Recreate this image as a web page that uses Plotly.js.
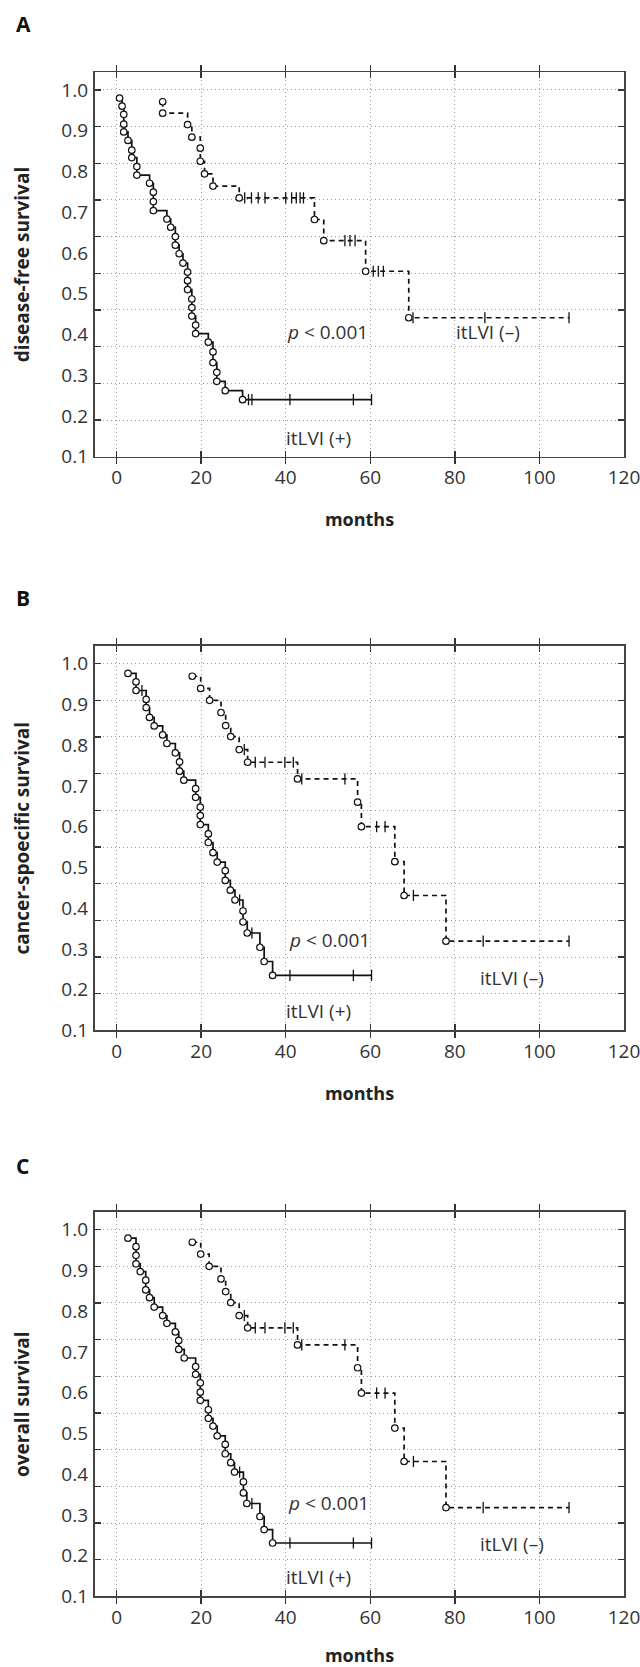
<!DOCTYPE html>
<html><head><meta charset="utf-8">
<script src="https://cdn.plot.ly/plotly-3.0.1.min.js"></script>
<style>html,body{margin:0;padding:0;background:#fff}</style>
</head><body>
<div id="chart" style="width:640px;height:1667px"></div>
<script>
// ---------- axis ticks ----------
const monthTicks = [0, 20, 40, 60, 80, 100, 120];
const yTickVals = [0.1, 0.2, 0.3, 0.4, 0.5, 0.6, 0.7, 0.8, 0.9, 1.0];
const yTickText = ["0.1", "0.2", "0.3", "0.4", "0.5", "0.6", "0.7", "0.8", "0.9", "1.0"];
const gridVals = [0, 0.1, 0.2, 0.3, 0.4, 0.5, 0.6, 0.7, 0.8, 0.9, 1.0];
const panelTitles = ["disease-free survival", "cancer-spoecific survival", "overall survival"];
const panelLetters = ["A", "B", "C"];
const groupLabels = ["itLVI (+)", "itLVI (\u2013)"];
const pText = "<i>p</i> &lt; 0.001";

// ---------- A: disease-free survival ----------
const dfsPosT = [0.7,1.3,1.7,1.7,1.7,2.7,3.6,3.6,4.8,4.8,7.8,8.7,8.7,8.7,11.9,12.8,13.9,13.9,14.8,15.7,16.8,16.8,16.8,17.8,17.8,17.8,18.7,18.7,21.7,22.8,22.8,23.7,23.7,25.7,29.8];
const dfsPosS = [0.980,0.960,0.940,0.916,0.897,0.876,0.852,0.834,0.812,0.791,0.771,0.749,0.726,0.704,0.683,0.663,0.640,0.619,0.598,0.575,0.553,0.532,0.510,0.487,0.466,0.445,0.423,0.402,0.381,0.357,0.331,0.307,0.285,0.262,0.240];
const dfsPosCens = [31.2,32.0,41.0,56.0,60.3];
const dfsNegT = [10.9,10.9,16.8,17.8,19.8,19.8,20.8,22.8,29.0,46.8,49.0,58.9,69.1];
const dfsNegS = [0.971,0.943,0.915,0.884,0.857,0.825,0.794,0.764,0.735,0.682,0.630,0.555,0.441];
const dfsNegCens = [30.3,31.9,33.5,35.1,40.0,41.4,42.5,43.4,44.2,54.0,55.2,56.4,60.7,61.9,63.1,70.1,87.1,107.0];

// ---------- B: cancer-specific survival ----------
const cssPosT = [2.7,4.6,4.6,7.0,7.0,7.8,8.9,10.9,11.9,13.9,14.9,14.9,15.9,18.7,18.7,19.8,19.8,19.8,21.7,21.7,22.8,23.8,25.7,25.7,26.9,28.0,29.9,29.9,30.9,33.9,34.9,36.9];
const cssPosS = [0.976,0.955,0.934,0.912,0.892,0.868,0.847,0.825,0.804,0.781,0.759,0.736,0.714,0.693,0.672,0.648,0.627,0.605,0.582,0.561,0.536,0.513,0.492,0.468,0.444,0.420,0.393,0.366,0.339,0.304,0.269,0.235];
const cssPosCens = [6.0,29.1,32.0,41.0,56.0,60.3];
const cssNegT = [17.9,19.9,22.0,24.7,25.8,27.0,29.0,31.0,42.8,57.0,57.9,65.8,68.0,77.9];
const cssNegS = [0.969,0.939,0.910,0.880,0.848,0.821,0.789,0.758,0.717,0.660,0.600,0.514,0.431,0.319];
const cssNegCens = [30.2,32.8,35.1,39.8,41.8,43.8,54.0,61.5,63.5,70.2,86.7,107.0];

// ---------- C: overall survival ----------
const osPosT = [2.7,4.6,4.6,4.6,5.6,6.9,6.9,7.8,8.9,10.9,11.9,13.9,14.7,14.7,16.0,18.7,18.7,19.8,19.8,19.8,21.7,21.7,22.8,23.8,25.7,25.7,27.0,27.9,30.0,30.0,30.8,33.9,34.9,36.9];
const osPosS = [0.979,0.958,0.937,0.916,0.897,0.876,0.852,0.833,0.810,0.789,0.770,0.749,0.728,0.706,0.685,0.664,0.645,0.624,0.601,0.581,0.558,0.537,0.518,0.494,0.473,0.450,0.428,0.405,0.381,0.354,0.328,0.296,0.264,0.231];
const osPosCens = [29.1,32.0,41.0,56.0,60.3];
const osNegT = [17.9,19.9,21.9,24.7,25.8,27.0,29.0,31.0,42.8,57.0,57.9,65.8,68.0,77.9];
const osNegS = [0.969,0.940,0.910,0.879,0.848,0.821,0.789,0.759,0.717,0.661,0.599,0.513,0.431,0.318];
const osNegCens = [30.2,32.8,35.1,39.8,41.8,43.8,54.0,61.5,63.5,70.2,86.7,107.0];

// text positions (data coords) [p, itLVI(+), itLVI(-)]
const textPos = [
  {p:[39.9,0.407], pos:[39.6,0.145], neg:[79.8,0.407]},
  {p:[40.2,0.322], pos:[39.7,0.148], neg:[85.4,0.229]},
  {p:[40.1,0.329], pos:[39.7,0.148], neg:[85.4,0.229]}
];

const panels = [
  {pos:[dfsPosT,dfsPosS,dfsPosCens], neg:[dfsNegT,dfsNegS,dfsNegCens]},
  {pos:[cssPosT,cssPosS,cssPosCens], neg:[cssNegT,cssNegS,cssNegCens]},
  {pos:[osPosT,osPosS,osPosCens], neg:[osNegT,osNegS,osNegCens]}
];

// ---------- layout geometry ----------
const H = 1667;
const panelPx = [[72.3,456.7],[646,1030.4],[1212,1596.4]];
const letterY = [24, 598, 1166];
const FONT = "Open Sans, Noto Sans, sans-serif";
const INK = "#111";
const GRID = "#9c9c9c";

function stepAt(T, S, t){ let s = S[0]; for (let i=0;i<T.length;i++){ if (T[i] <= t) s = S[i]; } return s; }
function kmLine(T, S, C){
  const pts = T.map((t,i)=>({t:t, s:S[i], k:0}));
  C.forEach(c=>pts.push({t:c, s:stepAt(T,S,c), k:1}));
  pts.sort((a,b)=> a.t-b.t || a.k-b.k);
  return {x:pts.map(p=>p.t), y:pts.map(p=>p.s), cy:C.map(c=>stepAt(T,S,c))};
}

const data = [];
const layout = {
  width:640, height:H, margin:{l:95, r:16, t:0, b:0},
  paper_bgcolor:"#fff", plot_bgcolor:"rgba(0,0,0,0)", showlegend:false,
  font:{family:FONT, color:"#333"}, annotations:[]
};

panels.forEach((pn, k)=>{
  const xs = k===0 ? "x" : "x"+(k+1);
  const ys = k===0 ? "y" : "y"+(k+1);
  const gs = "y"+(k+4);
  const dom = [1-panelPx[k][1]/H, 1-panelPx[k][0]/H];
  const axKey = (a,n)=> a + "axis" + (n===1 ? "" : n);

  [["pos","solid"],["neg","5px,4px"]].forEach(([g,dash])=>{
    const [T,S,C] = pn[g];
    const L = kmLine(T,S,C);
    data.push({type:"scatter", mode:"lines", x:L.x, y:L.y, xaxis:xs, yaxis:ys,
      line:{shape:"hv", color:INK, width:1.7, dash:dash}, hoverinfo:"skip"});
    data.push({type:"scatter", mode:"markers", x:C, y:L.cy, xaxis:xs, yaxis:ys,
      marker:{symbol:"line-ns", size:8, color:INK, line:{width:1.3, color:INK}}, hoverinfo:"skip"});
    data.push({type:"scatter", mode:"markers", x:T, y:S, xaxis:xs, yaxis:ys,
      marker:{symbol:"circle", size:6.5, color:"#fff", line:{width:1.2, color:INK}}, hoverinfo:"skip"});
  });

  layout[axKey("x",k+1)] = {
    domain:[0,1], anchor:ys, range:[-5.1,120], tickvals:monthTicks, ticktext:monthTicks.map(String),
    showgrid:true, gridcolor:GRID, griddash:"1px,3px", gridwidth:1,
    ticks:"inside", ticklen:6, tickwidth:1.3, tickcolor:"#333", mirror:"allticks",
    showline:true, linecolor:"#444", linewidth:1.6, zeroline:false,
    tickfont:{family:FONT, size:19, color:"#333"}, ticklabelstandoff:3, ticklabeloverflow:"allow",
    title:{text:"months", font:{family:FONT, size:18, color:"#222", weight:700}, standoff:24},
    fixedrange:true
  };
  layout[axKey("y",k+1)] = {
    domain:dom, anchor:xs, range:[0.1, 0.1+0.9*1.048], tickvals:yTickVals, ticktext:yTickText,
    ticks:"", showgrid:false, showline:false, zeroline:false,
    tickfont:{family:FONT, size:19, color:"#333"}, ticklabelstandoff:6, ticklabeloverflow:"allow",
    title:{text:panelTitles[k], font:{family:FONT, size:19, color:"#222", weight:700}, standoff:26},
    fixedrange:true
  };
  layout["yaxis"+(k+4)] = {
    overlaying:ys, anchor:xs, side:"left", range:[0,1.048], tickvals:gridVals,
    showticklabels:false, showgrid:true, gridcolor:GRID, griddash:"1px,3px", gridwidth:1,
    ticks:"inside", ticklen:6, tickwidth:1.3, tickcolor:"#333", mirror:"allticks",
    showline:true, linecolor:"#444", linewidth:1.6, zeroline:false, fixedrange:true
  };
  // invisible anchor trace so the grid axis gets its subplot
  data.push({type:"scatter", mode:"markers", x:[null], y:[null], xaxis:xs, yaxis:gs, hoverinfo:"skip", showlegend:false});

  const tp = textPos[k];
  const txtFont = {family:FONT, size:19, color:"#333"};
  layout.annotations.push(
    {xref:xs, yref:ys, x:tp.p[0], y:tp.p[1], text:pText, showarrow:false, xanchor:"left", yanchor:"middle", font:txtFont},
    {xref:xs, yref:ys, x:tp.pos[0], y:tp.pos[1], text:groupLabels[0], showarrow:false, xanchor:"left", yanchor:"middle", font:txtFont},
    {xref:xs, yref:ys, x:tp.neg[0], y:tp.neg[1], text:groupLabels[1], showarrow:false, xanchor:"left", yanchor:"middle", font:txtFont},
    {xref:"paper", yref:"paper", x:(14-95)/529, y:1-letterY[k]/H, text:panelLetters[k], showarrow:false,
     xanchor:"left", yanchor:"middle", font:{family:FONT, size:21, color:"#111", weight:700}}
  );
});

Plotly.newPlot("chart", data, layout, {staticPlot:true, displayModeBar:false});
</script>
</body></html>
